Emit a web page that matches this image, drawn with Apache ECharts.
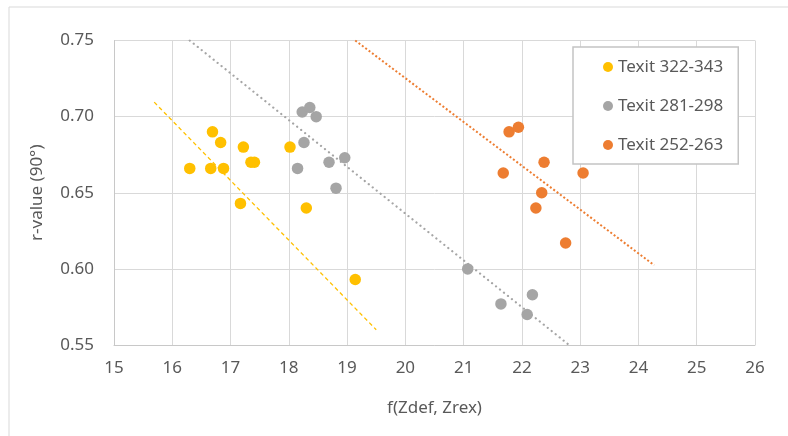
<!DOCTYPE html>
<html>
<head>
<meta charset="utf-8">
<script src="https://cdn.jsdelivr.net/npm/echarts@6/dist/echarts.min.js"></script>
<style>
html,body{margin:0;padding:0;background:#fff;}
#chart{width:788px;height:436px;}
</style>
</head>
<body>
<div id="chart"></div>
<script>
// ---- Data ----
const seriesNames = ['Texit 322-343', 'Texit 281-298', 'Texit 252-263'];
const yellowPts = [
  [16.30, 0.666], [16.69, 0.690], [16.83, 0.683], [16.66, 0.666], [16.88, 0.666],
  [17.22, 0.680], [17.35, 0.670], [17.41, 0.670], [18.02, 0.680],
  [17.17, 0.643], [18.30, 0.640], [19.14, 0.593]
];
const grayPts = [
  [18.23, 0.703], [18.36, 0.706], [18.47, 0.700], [18.26, 0.683], [18.15, 0.666],
  [18.69, 0.670], [18.96, 0.673], [18.81, 0.653],
  [21.07, 0.600], [21.64, 0.577], [22.18, 0.583], [22.09, 0.570]
];
const orangePts = [
  [21.78, 0.690], [21.94, 0.693], [22.38, 0.670], [21.68, 0.663], [23.05, 0.663],
  [22.34, 0.650], [22.24, 0.640], [22.75, 0.617]
];
// trend line end points (as seen in the picture)
const trendYellow = [[15.69, 0.7095], [19.50, 0.560]];
const trendGray = [[16.30, 0.750], [22.81, 0.550]];
const trendOrange = [[19.14, 0.750], [24.27, 0.6024]];
// tick labels
const xTicks = [15, 16, 17, 18, 19, 20, 21, 22, 23, 24, 25, 26];
const yTicks = [0.55, 0.60, 0.65, 0.70, 0.75];
const xTitle = 'f(Zdef, Zrex)';
const yTitle = 'r-value (90°)';

const colors = ['#FFC000', '#A5A5A5', '#ED7D31'];
const font = "'Noto Sans', 'Open Sans', sans-serif";
const textColor = '#595959';
const fs = 17;

const chart = echarts.init(document.getElementById('chart'), null, {renderer: 'canvas'});
const scatterSeries = [yellowPts, grayPts, orangePts].map((d, i) => ({
  name: seriesNames[i],
  type: 'scatter',
  data: d,
  symbol: 'circle',
  symbolSize: 11.5,
  itemStyle: {color: colors[i], opacity: 1},
  z: 3
}));
function trend(data, color, type, width, cap) {
  return {
    type: 'line',
    data: data,
    symbol: 'none',
    silent: true,
    clip: true,
    lineStyle: {color: color, width: width, type: type, cap: cap},
    z: 2
  };
}
chart.setOption({
  animation: false,
  backgroundColor: '#fff',
  textStyle: {fontFamily: font},
  graphic: [{
    type: 'rect',
    shape: {x: 9, y: 7, width: 900, height: 600},
    style: {fill: 'none', stroke: '#D9D9D9', lineWidth: 1},
    z: -1, silent: true
  }],
  grid: {left: 114, right: 33, top: 40.5, bottom: 91, containLabel: false},
  legend: {
    orient: 'vertical',
    left: 573,
    top: 47,
    data: seriesNames,
    icon: 'circle',
    itemWidth: 10,
    itemHeight: 10,
    itemGap: 19,
    padding: [10, 15, 9, 30],
    borderColor: '#C4C4C4',
    borderWidth: 1.5,
    backgroundColor: '#fff',
    textStyle: {color: textColor, fontSize: fs, fontFamily: font, lineHeight: 20}
  },
  xAxis: {
    type: 'value',
    min: xTicks[0],
    max: xTicks[xTicks.length - 1],
    interval: 1,
    name: xTitle,
    nameLocation: 'middle',
    nameGap: 55,
    nameTextStyle: {color: textColor, fontSize: fs, fontFamily: font},
    axisLine: {show: true, lineStyle: {color: '#C8C8C8', width: 1}},
    axisTick: {show: false},
    axisLabel: {color: textColor, fontSize: fs, fontFamily: font, margin: 15},
    splitLine: {show: true, lineStyle: {color: '#D9D9D9', width: 1}}
  },
  yAxis: {
    type: 'value',
    min: yTicks[0],
    max: yTicks[yTicks.length - 1],
    interval: 0.05,
    name: yTitle,
    nameLocation: 'middle',
    nameGap: 68,
    nameTextStyle: {color: textColor, fontSize: fs, fontFamily: font},
    axisLine: {show: true, lineStyle: {color: '#C8C8C8', width: 1}},
    axisTick: {show: false},
    axisLabel: {color: textColor, fontSize: fs, fontFamily: font, margin: 20,
      formatter: v => v.toFixed(2)},
    splitLine: {show: true, lineStyle: {color: '#D9D9D9', width: 1}}
  },
  series: [
    ...scatterSeries,
    trend(trendYellow, colors[0], [4, 3], 1.3, 'butt'),
    trend(trendGray, colors[1], [0.1, 5], 2.2, 'round'),
    trend(trendOrange, colors[2], [2, 2.2], 2, 'butt')
  ]
});
</script>
</body>
</html>
